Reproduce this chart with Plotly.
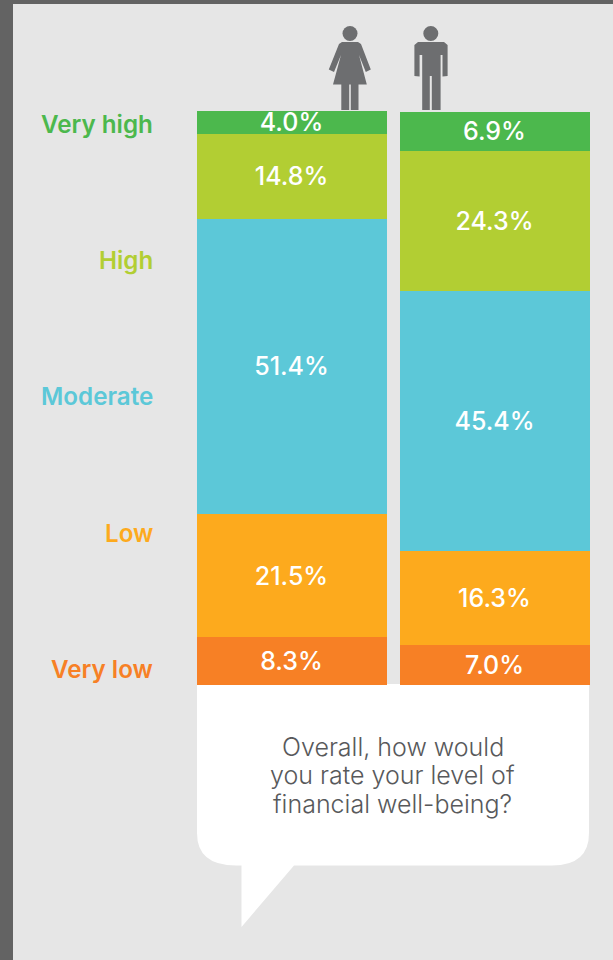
import plotly.graph_objects as go

groups = ["Women", "Men"]
levels = ["Very low", "Low", "Moderate", "High", "Very high"]
women = [8.3, 21.5, 51.4, 14.8, 4.0]
men = [7.0, 16.3, 45.4, 24.3, 6.9]
level_colors = ["#F78025", "#FDAA1D", "#5CC8D8", "#B2CE33", "#4CB84D"]
label_y_px = [669, 533, 396, 260, 124]
question_lines = ["Overall, how would", "you rate your level of", "financial well-being?"]
question_y_px = [747, 775, 804]

W, H = 613, 960
L, R, T, B = 190, 596, 111, 685


def px(x):
    return (x - L) / (R - L)


def py(y):
    return (B - y) / (B - T)


def path(points):
    return "M " + " L ".join(f"{px(x):.5f},{py(y):.5f}" for x, y in points) + " Z"


def circle(cx, cy, r, color):
    return dict(type="circle", xref="paper", yref="paper", x0=px(cx - r), x1=px(cx + r),
                y0=py(cy + r), y1=py(cy - r), fillcolor=color, line_width=0, layer="above")


def poly(points, color, layer="above"):
    return dict(type="path", xref="paper", yref="paper", path=path(points),
                fillcolor=color, line_width=0, layer=layer)


fig = go.Figure()
for i, level in enumerate(levels):
    fig.add_trace(go.Bar(
        x=groups, y=[women[i], men[i]], name=level,
        marker=dict(color=level_colors[i], line_width=0),
        texttemplate="%{y:.1f}%", textposition="inside", insidetextanchor="middle",
        textangle=0, constraintext="none",
        textfont=dict(family="Inter", size=25, color="white", weight=500),
        hoverinfo="skip",
    ))

icon = "#6D6E70"
shapes = [
    # page frame
    dict(type="rect", xref="paper", yref="paper", x0=px(0), x1=px(13), y0=py(960), y1=py(0),
         fillcolor="#636363", line_width=0, layer="below"),
    dict(type="rect", xref="paper", yref="paper", x0=px(0), x1=px(613), y0=py(4), y1=py(0),
         fillcolor="#636363", line_width=0, layer="below"),
    # speech bubble
    dict(type="path", xref="paper", yref="paper", layer="below", fillcolor="white", line_width=0,
         path=(f"M {px(197):.5f},{py(684):.5f} L {px(589):.5f},{py(684):.5f} "
               f"L {px(589):.5f},{py(833):.5f} Q {px(589):.5f},{py(865.5):.5f} {px(552):.5f},{py(865.5):.5f} "
               f"L {px(294):.5f},{py(865.5):.5f} L {px(241.5):.5f},{py(927):.5f} L {px(241.5):.5f},{py(865.5):.5f} "
               f"L {px(236):.5f},{py(865.5):.5f} Q {px(197):.5f},{py(865.5):.5f} {px(197):.5f},{py(833):.5f} Z")),
    # woman
    circle(350, 33.5, 7.5, icon),
    poly([(342, 42), (358, 42), (361, 44), (370.8, 69.5), (365.8, 72), (359, 55), (366.8, 84.5),
          (358.5, 84.5), (358.5, 110), (350.8, 110), (350.8, 84.5), (349.2, 84.5), (349.2, 110),
          (341.3, 110), (341.3, 84.5), (333, 84.5), (341, 55), (334, 72), (328.8, 69.5), (339, 44)], icon),
    # man
    circle(430.8, 33.5, 7.5, icon),
    poly([(418, 42), (444, 42), (447.6, 45), (447.6, 76), (442.5, 76.5), (442.5, 55), (440.6, 55),
          (440.6, 110), (431.8, 110), (431.8, 76), (429.8, 76), (429.8, 110), (422.2, 110),
          (422.2, 55), (419.6, 55), (419.6, 76.5), (414.4, 76), (414.4, 45)], icon),
]

annotations = [
    dict(text=level, xref="paper", yref="paper", x=px(155), y=py(label_y_px[i]), showarrow=False,
         xanchor="right", yanchor="middle",
         font=dict(family="Inter", size=24.2, color=level_colors[i], weight=600))
    for i, level in enumerate(levels)
]
annotations += [
    dict(text=line, xref="paper", yref="paper", x=px(392.5), y=py(question_y_px[i]), showarrow=False,
         xanchor="center", yanchor="middle", align="center",
         font=dict(family="Inter", size=25, color="#58595B", weight=300))
    for i, line in enumerate(question_lines)
]

fig.update_layout(
    barmode="stack", bargap=13 / 203, showlegend=False, autosize=False, width=W, height=H,
    margin=dict(l=L, r=W - R, t=T, b=H - B, pad=0),
    paper_bgcolor="#E6E6E6", plot_bgcolor="rgba(0,0,0,0)",
    xaxis=dict(visible=False, categoryorder="array", categoryarray=groups),
    yaxis=dict(visible=False, range=[0, 100]),
    shapes=shapes, annotations=annotations,
)
fig.write_html("out.html", config={"displayModeBar": False},
               post_script="document.body.style.margin='0';")
